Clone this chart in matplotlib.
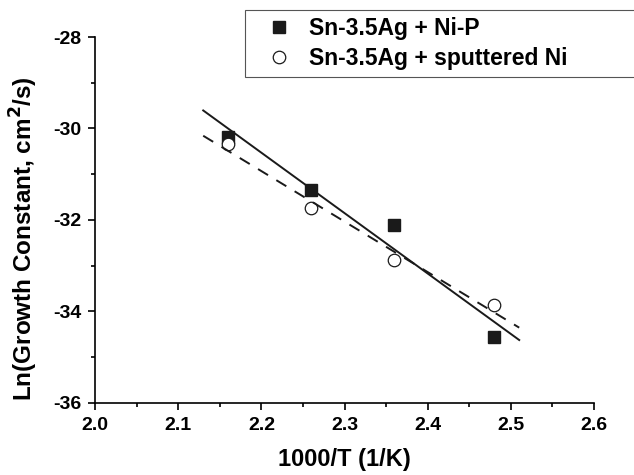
import numpy as np
import matplotlib
matplotlib.use("Agg")
import matplotlib.pyplot as plt
from matplotlib.ticker import MultipleLocator

plt.rcParams['font.family'] = ['Liberation Sans', 'DejaVu Sans']
plt.rcParams['font.weight'] = 'bold'
plt.rcParams['axes.unicode_minus'] = False

inv_T = [2.16, 2.26, 2.36, 2.48]
ln_k_nip = [-30.18, -31.35, -32.12, -34.55]
ln_k_sput = [-30.33, -31.73, -32.88, -33.87]
fit_range = [2.13, 2.51]

fig = plt.figure(figsize=(6.34, 4.75), dpi=100)
ax = fig.add_axes([0.15, 0.152, 0.787, 0.77])

ax.plot(inv_T, ln_k_nip, 's', color='#1a1a1a', markersize=9, label='Sn-3.5Ag + Ni-P')
ax.plot(inv_T, ln_k_sput, 'o', mfc='white', mec='#1a1a1a', markersize=9, mew=0.9,
        label='Sn-3.5Ag + sputtered Ni')

xf = np.array(fit_range)
p1 = np.polyfit(inv_T, ln_k_nip, 1)
p2 = np.polyfit(inv_T, ln_k_sput, 1)
ax.plot(xf, np.polyval(p1, xf), '-', color='#1a1a1a', lw=1.4)
ax.plot(xf, np.polyval(p2, xf), '--', color='#1a1a1a', lw=1.4, dashes=(6, 5))

ax.set_xlim(2.0, 2.6)
ax.set_ylim(-36, -28)
ax.xaxis.set_major_locator(MultipleLocator(0.1))
ax.xaxis.set_minor_locator(MultipleLocator(0.05))
ax.yaxis.set_major_locator(MultipleLocator(2))
ax.yaxis.set_minor_locator(MultipleLocator(1))
ax.spines['top'].set_visible(False)
ax.spines['right'].set_visible(False)
for s in ('left', 'bottom'):
    ax.spines[s].set_linewidth(1.2)
ax.tick_params(which='major', direction='out', length=5, width=1.2, labelsize=14, pad=5)
ax.tick_params(which='minor', direction='out', length=3, width=1.2)
for lab in ax.get_xticklabels() + ax.get_yticklabels():
    lab.set_fontweight('bold')

ax.set_xlabel('1000/T (1/K)', fontsize=17, fontweight='bold', labelpad=10)
ax.set_ylabel('Ln(Growth Constant, cm$^\\mathbf{2}$/s)', fontsize=17.5, fontweight='bold')
ax.yaxis.set_label_coords(-0.11, 0.45)

leg = fig.legend(loc='upper left', bbox_to_anchor=(0.386, 0.847, 0.64, 0.132), mode='expand',
                 borderaxespad=0, frameon=True, fancybox=False, edgecolor='#555555',
                 framealpha=1, handletextpad=0.1, borderpad=0.3, labelspacing=0.3,
                 handlelength=2.4, prop={'weight': 'bold', 'size': 16.5})
leg.get_frame().set_linewidth(0.8)

fig.savefig('out.png', dpi=100)
